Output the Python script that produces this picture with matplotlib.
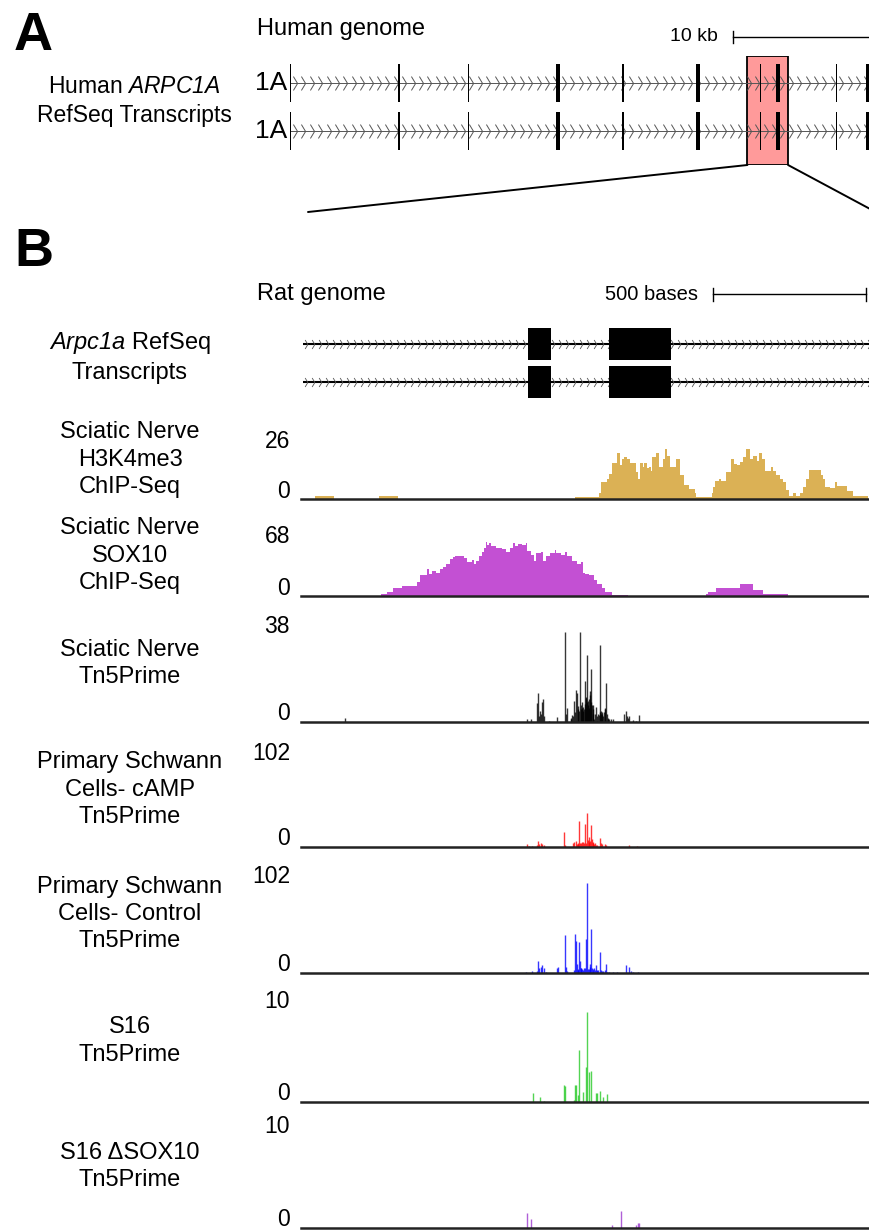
import numpy as np
import matplotlib
matplotlib.use("Agg")
import matplotlib.pyplot as plt
from matplotlib.path import Path
from matplotlib.patches import Rectangle, ConnectionPatch

plt.rcParams["font.family"] = ["Liberation Sans", "DejaVu Sans"]
# mathtext is only used for the italic gene names
plt.rcParams["mathtext.fontset"] = "custom"
plt.rcParams["mathtext.rm"] = "Liberation Sans:italic"
plt.rcParams["mathtext.it"] = "Liberation Sans:italic"

W, H = 870, 1232

# ---- Panel A: human ARPC1A (kb) ----
human_rows = ["1A", "1A"]
human_exon_starts_kb = [0.0, 7.7, 12.7, 19.0, 23.7, 29.0, 33.55, 34.7, 38.95, 41.15]
human_exon_sizes_kb = [0.1, 0.15, 0.07, 0.28, 0.15, 0.28, 0.07, 0.28, 0.08, 0.3]
human_span_kb = 41.4
zoom_region_kb = [32.65, 35.55]
human_scale_start_kb = 31.63
human_scale_kb = 10

# ---- Panel B: rat Arpc1a (bases) ----
rat_span = 1852
rat_exon_starts = [735, 1000]
rat_exon_ends = [810, 1202]
rat_scale_start = 1340
rat_scale_len = 500

h3k4_x = [45, 106, 254, 315, 892, 970, 976, 997, 1003, 1011, 1028, 1037, 1045, 1051, 1060,
          1070, 1090, 1097, 1102, 1112, 1118, 1126, 1132, 1138, 1144, 1156, 1164, 1178, 1184,
          1190, 1202, 1221, 1235, 1248, 1263, 1281, 1287, 1339, 1341, 1348, 1360, 1368, 1384,
          1399, 1408, 1420, 1430, 1438, 1450, 1462, 1472, 1483, 1492, 1501, 1511, 1529, 1535,
          1547, 1559, 1569, 1577, 1589, 1601, 1611, 1625, 1635, 1644, 1652, 1692, 1698, 1707,
          1722, 1737, 1744, 1777, 1797, 1845]
h3k4_y = [1.0, 0, 1.0, 0, 0.6, 2.2, 6.5, 7.7, 9.6, 13.5, 17.5, 12.7, 15.0, 15.9, 15.0,
          13.5, 10.2, 7.7, 13.5, 12.1, 13.5, 11.6, 12.1, 10.4, 15.7, 17.5, 12.1, 14.9, 18.7,
          16.1, 12.1, 14.9, 9.0, 5.3, 3.8, 2.2, 0.6, 2.2, 4.7, 6.8, 7.7, 6.8, 10.2,
          14.9, 13.3, 12.7, 13.9, 15.7, 18.7, 14.9, 16.3, 14.4, 17.5, 15.0, 10.4, 12.1, 10.4,
          9.2, 7.7, 6.5, 3.4, 1.0, 2.2, 1.0, 2.2, 4.7, 7.7, 10.8, 9.2, 7.7, 4.7,
          4.0, 6.5, 4.9, 3.1, 1.0, 0]

sox10_x = [262, 281, 298, 330, 376, 388, 411, 417, 425, 441, 453, 463, 471, 486, 495,
           501, 529, 540, 558, 564, 570, 580, 589, 595, 602, 607, 613, 620, 635, 653,
           667, 679, 689, 695, 707, 719, 731, 737, 749, 758, 765, 780, 789, 798, 810,
           826, 830, 846, 858, 867, 882, 898, 910, 919, 925, 939, 955, 963, 979, 989,
           1012, 1064, 1317, 1324, 1351, 1430, 1472, 1505, 1586]
sox10_y = [2.3, 4.3, 7.9, 9.6, 13.2, 19.8, 25.4, 21.5, 23.8, 22.1, 25.4, 28.0, 30.4, 35.3, 37.0,
           38.6, 36.3, 32.3, 34.7, 30.7, 34.0, 38.0, 42.6, 46.2, 51.8, 48.5, 51.2, 47.9, 45.9, 44.6,
           41.9, 46.2, 51.2, 47.9, 49.5, 48.5, 50.5, 42.9, 39.6, 34.0, 41.3, 42.2, 33.7, 38.0, 41.3,
           44.2, 41.3, 39.6, 42.2, 38.0, 34.0, 30.4, 32.3, 22.4, 21.5, 19.8, 15.5, 11.6, 7.3, 4.3,
           1.3, 0, 2.3, 4.3, 7.9, 11.6, 5.9, 2.3, 0]

sn_pos = [143, 734, 749, 769, 772, 775, 778, 780, 785, 788, 792, 807, 832, 858, 861,
          867, 878, 880, 883, 886, 889, 892, 894, 897, 900, 903, 905, 908, 910, 912,
          914, 916, 918, 919, 921, 923, 925, 926, 928, 930, 931, 933, 935, 937, 938,
          940, 942, 944, 945, 947, 949, 951, 952, 954, 956, 959, 962, 965, 967, 970,
          972, 974, 976, 978, 980, 981, 983, 985, 988, 990, 992, 995, 998, 1000, 1003,
          1008, 1014, 1050, 1057, 1060, 1063, 1068, 1079, 1090, 1101]
sn_val = [1.5, 1.2, 0.9, 6.9, 10.2, 2.1, 4.0, 2.7, 7.1, 8.3, 2.1, 0.4, 1.9, 32.0, 2.7,
          5.1, 1.0, 1.5, 2.5, 2.0, 7.5, 3.5, 11.2, 10.4, 4.5, 5.7, 4.0, 32.0, 6.0, 4.5,
          7.0, 5.1, 5.5, 3.8, 4.7, 6.5, 14.6, 9.0, 8.6, 7.0, 23.8, 6.0, 7.5, 8.0, 5.0,
          11.0, 9.5, 18.7, 7.0, 6.0, 6.2, 4.5, 3.0, 1.0, 3.0, 5.4, 2.0, 0.4, 3.0, 2.5,
          3.5, 27.5, 4.0, 2.7, 3.0, 3.5, 2.1, 3.5, 4.5, 5.0, 13.7, 3.0, 1.2, 1.5, 1.0,
          1.2, 1.2, 2.7, 3.9, 2.0, 1.5, 2.1, 0.6, 0.4, 2.4]

camp_pos = [736, 742, 753, 769, 772, 776, 782, 786, 791, 857, 859, 885, 890, 894, 897,
            900, 903, 906, 909, 912, 915, 918, 921, 925, 928, 931, 934, 936, 938, 940,
            943, 946, 949, 952, 955, 957, 960, 963, 972, 976, 981, 988, 994, 1066, 1092]
camp_val = [2.6, 1.0, 1.3, 2.3, 5.8, 3.2, 4.2, 3.2, 1.6, 14.3, 1.6, 3.9, 4.9, 5.5, 3.2,
            3.0, 4.0, 25.0, 4.2, 3.5, 4.9, 4.9, 4.0, 22.0, 4.2, 32.7, 6.5, 5.0, 9.7, 6.0,
            21.0, 8.1, 4.0, 4.5, 3.0, 4.2, 2.0, 2.3, 9.1, 4.2, 3.2, 2.6, 1.6, 2.3, 1.0]

ctrl_pos = [733, 753, 769, 772, 776, 782, 786, 790, 796, 832, 835, 858, 861, 867, 889,
            892, 895, 898, 900, 903, 906, 908, 910, 912, 915, 918, 921, 924, 927, 931,
            935, 937, 940, 942, 944, 946, 949, 951, 954, 956, 959, 962, 965, 968, 972,
            977, 980, 983, 988, 992, 996, 1003, 1014, 1030, 1057, 1066, 1074, 1079, 1096]
ctrl_val = [1.3, 2.2, 2.2, 11.0, 4.7, 5.4, 7.6, 4.7, 1.3, 4.7, 5.4, 36.0, 5.4, 2.2, 2.8,
            37.0, 30.0, 8.5, 3.0, 3.8, 29.7, 11.7, 4.5, 4.4, 3.5, 3.2, 5.0, 4.4, 32.0, 85.0,
            3.8, 4.0, 8.5, 6.0, 41.7, 5.0, 2.2, 3.5, 4.7, 3.0, 7.6, 2.5, 2.2, 3.0, 19.6,
            3.2, 2.0, 2.2, 2.8, 8.5, 1.0, 0.9, 0.6, 1.3, 7.9, 5.4, 2.2, 1.3, 0.6]

s16_pos = [754, 778, 791, 856, 859, 889, 892, 895, 900, 906, 919, 927, 931, 938, 943,
           959, 965, 972, 983, 995]
s16_val = [0.83, 0.45, 0.1, 1.5, 1.4, 0.15, 1.5, 1.5, 0.6, 4.6, 0.9, 3.1, 8.0, 2.7, 2.8,
           0.8, 0.8, 0.95, 0.45, 0.7]

dsox_pos = [736, 749, 1011, 1040, 1089, 1096, 1099]
dsox_val = [1.36, 0.77, 0.24, 1.5, 0.24, 0.47, 0.47]

tracks = [
    dict(label="Sciatic Nerve\nH3K4me3\nChIP-Seq", ymax=26, color="#DBB155", kind="cov",
         x=h3k4_x, y=h3k4_y, top=430, bottom=499),
    dict(label="Sciatic Nerve\nSOX10\nChIP-Seq", ymax=68, color="#C350D3", kind="cov",
         x=sox10_x, y=sox10_y, top=525, bottom=596),
    dict(label="Sciatic Nerve\nTn5Prime", ymax=38, color="#000000", kind="bar",
         x=sn_pos, y=sn_val, top=615, bottom=722),
    dict(label="Primary Schwann\nCells- cAMP\nTn5Prime", ymax=102, color="#FF0000", kind="bar",
         x=camp_pos, y=camp_val, top=742, bottom=847),
    dict(label="Primary Schwann\nCells- Control\nTn5Prime", ymax=102, color="#0000FF", kind="bar",
         x=ctrl_pos, y=ctrl_val, top=865, bottom=973),
    dict(label="S16\nTn5Prime", ymax=10, color="#22C822", kind="bar",
         x=s16_pos, y=s16_val, top=990, bottom=1102),
    dict(label="S16 \u0394SOX10\nTn5Prime", ymax=10, color="#9933CC", kind="bar",
         x=dsox_pos, y=dsox_val, top=1115, bottom=1228),
]


def fig_rect(l, t, r, b):
    return [l / W, 1 - b / H, (r - l) / W, (b - t) / H]


chevron = Path([(-0.3, 1), (0.3, 0), (-0.3, -1)], [Path.MOVETO, Path.LINETO, Path.LINETO])

fig = plt.figure(figsize=(W / 100, H / 100), dpi=100)

fig.text(14 / W, 1 - 50 / H, "A", fontsize=39, fontweight="bold", va="baseline")
fig.text(14 / W, 1 - 266 / H, "B", fontsize=39, fontweight="bold", va="baseline")
fig.text(257 / W, 1 - 29 / H, "Human genome", fontsize=17, va="center")
fig.text(257 / W, 1 - 294 / H, "Rat genome", fontsize=17, va="center")
fig.text(134 / W, 1 - 101 / H, "Human $\\mathrm{ARPC1A}$\nRefSeq Transcripts",
         fontsize=16.5, ha="center", va="center", linespacing=1.3)
fig.text(130 / W, 1 - 357 / H, "$\\mathrm{Arpc1a}$ RefSeq\nTranscripts",
         fontsize=17, ha="center", va="center", linespacing=1.3)

# panel A
axA = fig.add_axes(fig_rect(290, 56, 870, 165))
axA.set_xlim(0, human_span_kb)
axA.set_ylim(-0.71, 1.56)
axA.axis("off")
axA.axvspan(zoom_region_kb[0], zoom_region_kb[1], facecolor="#FF9A9A",
            edgecolor="black", lw=1.3, zorder=0)
for y, name in zip([1, 0], human_rows):
    axA.plot([0, human_span_kb], [y, y], color="#555555", lw=0.7, zorder=1)
    cx = np.arange(0.35, human_span_kb, 0.6)
    axA.plot(cx, np.full_like(cx, y), ls="none", marker=chevron, ms=10, mfc="none",
             mec="#555555", mew=0.7, zorder=1)
    for s, w in zip(human_exon_starts_kb, human_exon_sizes_kb):
        axA.add_patch(Rectangle((s, y - 0.39), w, 0.78, color="black", lw=0, zorder=2))
    axA.text(-0.2, y, name, ha="right", va="center", fontsize=19)

sy = 1 + (83 - 37) / 48
axA.plot([human_scale_start_kb, human_scale_start_kb + human_scale_kb], [sy, sy],
         color="black", lw=1, clip_on=False)
axA.plot([human_scale_start_kb] * 2, [sy - 0.13, sy + 0.13], color="black", lw=1, clip_on=False)
axA.text(human_scale_start_kb - 1.1, sy, f"{human_scale_kb} kb", ha="right", va="center",
         fontsize=14)

for xa, xb, yb in [(zoom_region_kb[0], 308, 212), (zoom_region_kb[1], 872, 210)]:
    con = ConnectionPatch(xyA=(xa, -0.71), coordsA=axA.transData,
                          xyB=(xb / W, 1 - yb / H), coordsB=fig.transFigure,
                          color="black", lw=1.4)
    fig.add_artist(con)

# panel B gene model
axG = fig.add_axes(fig_rect(303, 327, 870, 398))
axG.set_xlim(0, rat_span)
axG.set_ylim(-0.42, 1.45)
axG.axis("off")
for y in [1, 0]:
    axG.plot([0, rat_span], [y, y], color="black", lw=1.5, zorder=1)
    cx = np.arange(10, rat_span, 23)
    axG.plot(cx, np.full_like(cx, y, dtype=float), ls="none", marker=chevron, ms=6.5,
             mfc="none", mec="#555555", mew=0.6, zorder=1)
    for s, e in zip(rat_exon_starts, rat_exon_ends):
        axG.add_patch(Rectangle((s, y - 0.42), e - s, 0.84, color="black", lw=0, zorder=2))

gy = 1 + (344 - 294) / 38
axG.plot([rat_scale_start, rat_scale_start + rat_scale_len], [gy, gy], color="black", lw=1,
         clip_on=False)
for xx in [rat_scale_start, rat_scale_start + rat_scale_len]:
    axG.plot([xx, xx], [gy - 0.17, gy + 0.17], color="black", lw=1, clip_on=False)
axG.text(rat_scale_start - 50, gy, f"{rat_scale_len} bases", ha="right", va="center",
         fontsize=14.5)

# signal tracks
for tr in tracks:
    ax = fig.add_axes(fig_rect(301, tr["top"], 870, tr["bottom"]))
    ax.set_xlim(0, rat_span)
    ax.set_ylim(0, tr["ymax"])
    if tr["kind"] == "cov":
        ax.fill_between(tr["x"], tr["y"], step="post", color=tr["color"], lw=0)
    else:
        ax.vlines(tr["x"], 0, tr["y"], colors=tr["color"], lw=1.0, alpha=0.78)
    for sp in ["top", "left", "right"]:
        ax.spines[sp].set_visible(False)
    ax.spines["bottom"].set_linewidth(1.8)
    ax.spines["bottom"].set_color("#222222")
    ax.set_xticks([])
    ax.set_yticks([])
    ax.patch.set_alpha(0)
    ax.text(-11 / 569, 1, str(tr["ymax"]), transform=ax.transAxes, ha="right", va="top",
            fontsize=16.5)
    ax.text(-11 / 569, 0.02, "0", transform=ax.transAxes, ha="right", va="baseline",
            fontsize=16.5)
    cy = (tr["top"] + tr["bottom"]) / 2 - 5
    fig.text(130 / W, 1 - cy / H, tr["label"], fontsize=17, ha="center", va="center",
             linespacing=1.3)

fig.savefig("out.png", dpi=100)
